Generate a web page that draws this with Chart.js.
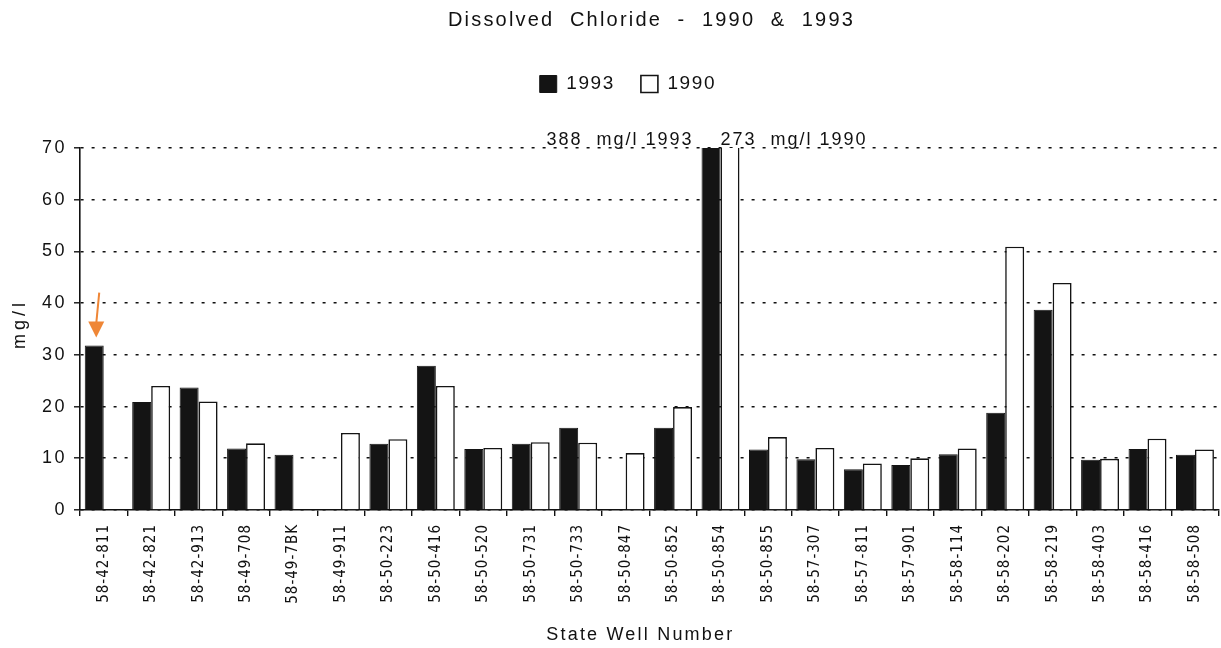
<!DOCTYPE html>
<html>
<head>
<meta charset="utf-8">
<script src="https://cdn.jsdelivr.net/npm/chart.js@4.4.1/dist/chart.umd.min.js"></script>
<style>
  html, body { margin: 0; padding: 0; background: #ffffff; }
  #wrap { width: 1221px; height: 648px; position: relative; background: #ffffff; }
  canvas { display: block; }
</style>
</head>
<body>
<div id="wrap"><canvas id="c" width="1221" height="648"></canvas></div>
<script>
// ---------------- data ----------------
const wells = ['58-42-811','58-42-821','58-42-913','58-49-708','58-49-7BK','58-49-911',
  '58-50-223','58-50-416','58-50-520','58-50-731','58-50-733','58-50-847','58-50-852',
  '58-50-854','58-50-855','58-57-307','58-57-811','58-57-901','58-58-114','58-58-202',
  '58-58-219','58-58-403','58-58-416','58-58-508'];
const chloride1993 = [31.8, 20.9, 23.7, 11.9, 10.7, null, 12.8, 27.9, 11.8, 12.8, 15.9, null,
  15.9, 388, 11.7, 9.8, 7.9, 8.7, 10.8, 18.8, 38.7, 9.7, 11.8, 10.7];
const chloride1990 = [null, 24.0, 21.0, 12.9, null, 14.9, 13.7, 24.0, 12.0, 13.1, 13.0, 11.0,
  19.9, 273, 14.1, 12.0, 9.0, 10.0, 11.9, 50.9, 43.9, 9.9, 13.8, 11.7];
const seriesNames = ['1993', '1990'];
const yTicks = [0, 10, 20, 30, 40, 50, 60, 70];
const offscaleIndex = 13;
const titleText = 'Dissolved  Chloride  -  1990  &  1993';
const xTitleText = 'State Well Number';
const yTitleText = 'mg/l';

// ---------------- styling ----------------
const FONT = "'Liberation Sans', Arial, Helvetica, sans-serif";
const NARROW = "'Liberation Sans Narrow', 'DejaVu Sans Condensed', 'Liberation Sans', sans-serif";
const INK = '#111111';

function spaced(obj, method, sp, dx, dy) {
  if (!obj || obj['__sp_' + method]) return;
  const orig = obj[method];
  obj[method] = function (...args) {
    const c = this.ctx;
    c.save();
    c.letterSpacing = sp;
    if (dx || dy) c.translate(dx || 0, dy || 0);
    try { return orig.apply(this, args); } finally { c.restore(); }
  };
  obj['__sp_' + method] = true;
}

const spacingPlugin = {
  id: 'spacing',
  beforeDraw(chart) {
    spaced(chart.titleBlock, 'draw', '2.2px', 42, 0);
    spaced(chart.legend, 'draw', '1.6px', 12, 0);
    spaced(chart.scales.y, 'drawLabels', '2.5px', 0, 0);
    spaced(chart.scales.y, 'drawTitle', '4px', 0, -5);
    spaced(chart.scales.x, 'drawTitle', '2.2px', -9, 0);
    spaced(chart.scales.x, 'drawLabels', '1px', 0, 0);
  }
};

const notePlugin = {
  id: 'notes',
  afterDraw(chart) {
    const ctx = chart.ctx;
    const ca = chart.chartArea;
    const m0 = chart.getDatasetMeta(0).data;
    const m1 = chart.getDatasetMeta(1).data;
    const b0 = m0[offscaleIndex], b1 = m1[offscaleIndex];
    ctx.save();
    ctx.letterSpacing = '2px';
    ctx.font = '18px ' + FONT;
    ctx.fillStyle = INK;
    ctx.textBaseline = 'alphabetic';
    ctx.textAlign = 'right';
    ctx.fillText(chloride1993[offscaleIndex] + '  mg/l ' + seriesNames[0], b0.x - b0.width / 2 - 8, ca.top - 3);
    ctx.textAlign = 'left';
    ctx.fillText(chloride1990[offscaleIndex] + '  mg/l ' + seriesNames[1], b1.x - b1.width / 2, ca.top - 3);
    // orange arrow pointing at first bar
    const a = m0[0];
    const tipX = a.x + 2, tipY = a.y - 8;
    ctx.strokeStyle = '#EF8636';
    ctx.fillStyle = '#EF8636';
    ctx.lineWidth = 2;
    ctx.beginPath();
    ctx.moveTo(a.x + 5, a.y - 53);
    ctx.lineTo(tipX, tipY - 14);
    ctx.stroke();
    ctx.beginPath();
    ctx.moveTo(tipX - 8, tipY - 16);
    ctx.lineTo(tipX + 8, tipY - 16);
    ctx.lineTo(tipX, tipY);
    ctx.closePath();
    ctx.fill();
    ctx.restore();
  }
};

new Chart(document.getElementById('c'), {
  type: 'bar',
  data: {
    labels: wells,
    datasets: [
      { label: seriesNames[0], data: chloride1993, backgroundColor: '#141414', borderColor: '#141414',
        borderWidth: 1, categoryPercentage: 0.8, barPercentage: 1.0 },
      { label: seriesNames[1], data: chloride1990, backgroundColor: '#ffffff', borderColor: '#141414',
        borderWidth: 1.6, categoryPercentage: 0.8, barPercentage: 1.0 }
    ]
  },
  options: {
    responsive: false,
    animation: false,
    devicePixelRatio: 1,
    layout: { padding: { left: 0, right: 2, top: 0, bottom: 0 } },
    plugins: {
      tooltip: { enabled: false },
      title: { display: true, text: titleText, color: INK,
        font: { family: FONT, size: 20, weight: 'normal', lineHeight: 1.2 },
        padding: { top: 8, bottom: 16.5 } },
      subtitle: { display: true, text: '', weight: 500,
        font: { family: FONT, size: 10, lineHeight: 1 }, padding: { top: 34.5, bottom: 0 } },
      legend: { display: true, position: 'top',
        labels: { font: { family: FONT, size: 19 }, color: INK, boxWidth: 17, boxHeight: 17, padding: 26 } }
    },
    scales: {
      x: {
        afterFit(s) { s.height = 138; },
        ticks: { font: { family: NARROW, size: 15 }, color: INK, maxRotation: 90, minRotation: 90,
          autoSkip: false, padding: 8 },
        grid: { offset: true, drawOnChartArea: false, drawTicks: true, tickLength: 6,
          color: INK, tickColor: INK, lineWidth: 1.4 },
        border: { display: true, color: INK, width: 1.6 },
        title: { display: true, text: xTitleText, color: INK, font: { family: FONT, size: 18 },
          padding: { top: 4, bottom: 2.2 } }
      },
      y: {
        min: 0, max: 70,
        afterFit(s) { s.width = 80; },
        afterBuildTicks(s) { s.ticks = yTicks.map(v => ({ value: v })); },
        ticks: { font: { family: FONT, size: 18 }, color: INK, padding: 7 },
        grid: { color: INK, lineWidth: 1.6, tickLength: 6, tickColor: INK,
          tickBorderDash: [], tickWidth: 1.4, drawTicks: true },
        border: { display: true, color: INK, width: 1.6, dash: [3, 8] },
        title: { display: true, text: yTitleText, color: INK, font: { family: FONT, size: 18 },
          padding: { top: 9, bottom: 0 } }
      }
    }
  },
  plugins: [spacingPlugin, notePlugin]
});
</script>
</body>
</html>
